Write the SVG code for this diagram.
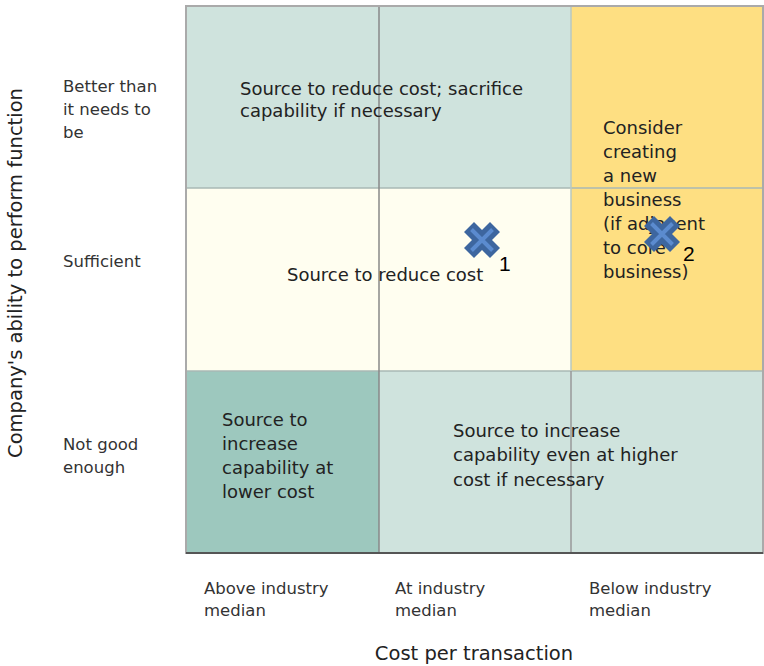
<svg xmlns="http://www.w3.org/2000/svg" width="764" height="666" viewBox="0 0 764 666">
<style>
.t{font-family:"DejaVu Sans","Liberation Sans",sans-serif;fill:#222}
.c{font-size:18px}
.a{font-size:16.5px;fill:#333}
.ti{font-size:19.5px}
.n{font-family:"Liberation Sans",Arial,sans-serif;font-size:21px;fill:#000}
.xo{fill:#3d669f}
.xi{stroke:#5b8bcf;stroke-width:4;fill:none}
</style>
<defs>
<g id="cross">
<polygon class="xo" points="-18,-8 -8,-18 0,-10 8,-18 18,-8 10,0 18,8 8,18 0,10 -8,18 -18,8 -10,0"/>
<path class="xi" d="M-10.5,-10.5L10.5,10.5M10.5,-10.5L-10.5,10.5"/>
</g>
</defs>
<rect width="764" height="666" fill="#fff"/>
<g id="cells">
<rect id="cell-top" x="186" y="6" width="385" height="182" fill="#cfe3dd"/>
<rect id="cell-mid" x="186" y="188" width="385" height="183" fill="#fffef0"/>
<rect id="cell-right" x="571" y="6" width="192" height="365" fill="#fedf82"/>
<rect id="cell-bl" x="186" y="371" width="193" height="182" fill="#9dc8be"/>
<rect id="cell-br" x="379" y="371" width="384" height="182" fill="#cfe3dd"/>
</g>
<g id="grid" fill="none">
<line x1="186" y1="188" x2="763" y2="188" stroke="#a8b8b4" stroke-width="1.5"/>
<line x1="186" y1="371" x2="763" y2="371" stroke="#a8b8b4" stroke-width="1.5"/>
<line x1="571" y1="6" x2="571" y2="371" stroke="#b8c8c0" stroke-width="1.5"/>
<line x1="571" y1="371" x2="571" y2="553" stroke="#999" stroke-width="1.5"/>
<line x1="379" y1="6" x2="379" y2="553" stroke="#888" stroke-width="1.5"/>
<rect x="186" y="6" width="577" height="547" stroke="#aaa" stroke-width="2"/>
<line x1="186" y1="553" x2="763" y2="553" stroke="#555" stroke-width="2"/>
</g>
<g id="text-top" class="t c">
<text x="240" y="95">Source to reduce cost; sacrifice</text>
<text x="240" y="117">capability if necessary</text>
</g>
<g id="text-mid" class="t c">
<text x="287" y="281">Source to reduce cost</text>
</g>
<g id="text-right" class="t c">
<text x="603" y="134">Consider</text>
<text x="603" y="158">creating</text>
<text x="603" y="182">a new</text>
<text x="603" y="206">business</text>
<text x="603" y="230">(if adjacent</text>
<text x="603" y="254">to core</text>
<text x="603" y="278">business)</text>
</g>
<g id="text-bl" class="t c">
<text x="222" y="426">Source to</text>
<text x="222" y="450">increase</text>
<text x="222" y="474">capability at</text>
<text x="222" y="498">lower cost</text>
</g>
<g id="text-br" class="t c">
<text x="453" y="437">Source to increase</text>
<text x="453" y="461">capability even at higher</text>
<text x="453" y="486">cost if necessary</text>
</g>
<g id="marker-1">
<use href="#cross" x="482" y="240"/>
<text class="n" x="499" y="271">1</text>
</g>
<g id="marker-2">
<use href="#cross" x="662" y="234"/>
<text class="n" x="683" y="261">2</text>
</g>
<g id="y-labels" class="t a">
<text x="63" y="92">Better than</text>
<text x="63" y="115">it needs to</text>
<text x="63" y="138">be</text>
<text x="63" y="267">Sufficient</text>
<text x="63" y="450">Not good</text>
<text x="63" y="473">enough</text>
</g>
<g id="x-labels" class="t a">
<text x="204" y="594">Above industry</text>
<text x="204" y="616">median</text>
<text x="395" y="594">At industry</text>
<text x="395" y="616">median</text>
<text x="589" y="594">Below industry</text>
<text x="589" y="616">median</text>
</g>
<g id="axis-titles" class="t ti">
<text x="474" y="660" text-anchor="middle">Cost per transaction</text>
<text transform="translate(22,273) rotate(-90)" text-anchor="middle">Company's ability to perform function</text>
</g>
</svg>
